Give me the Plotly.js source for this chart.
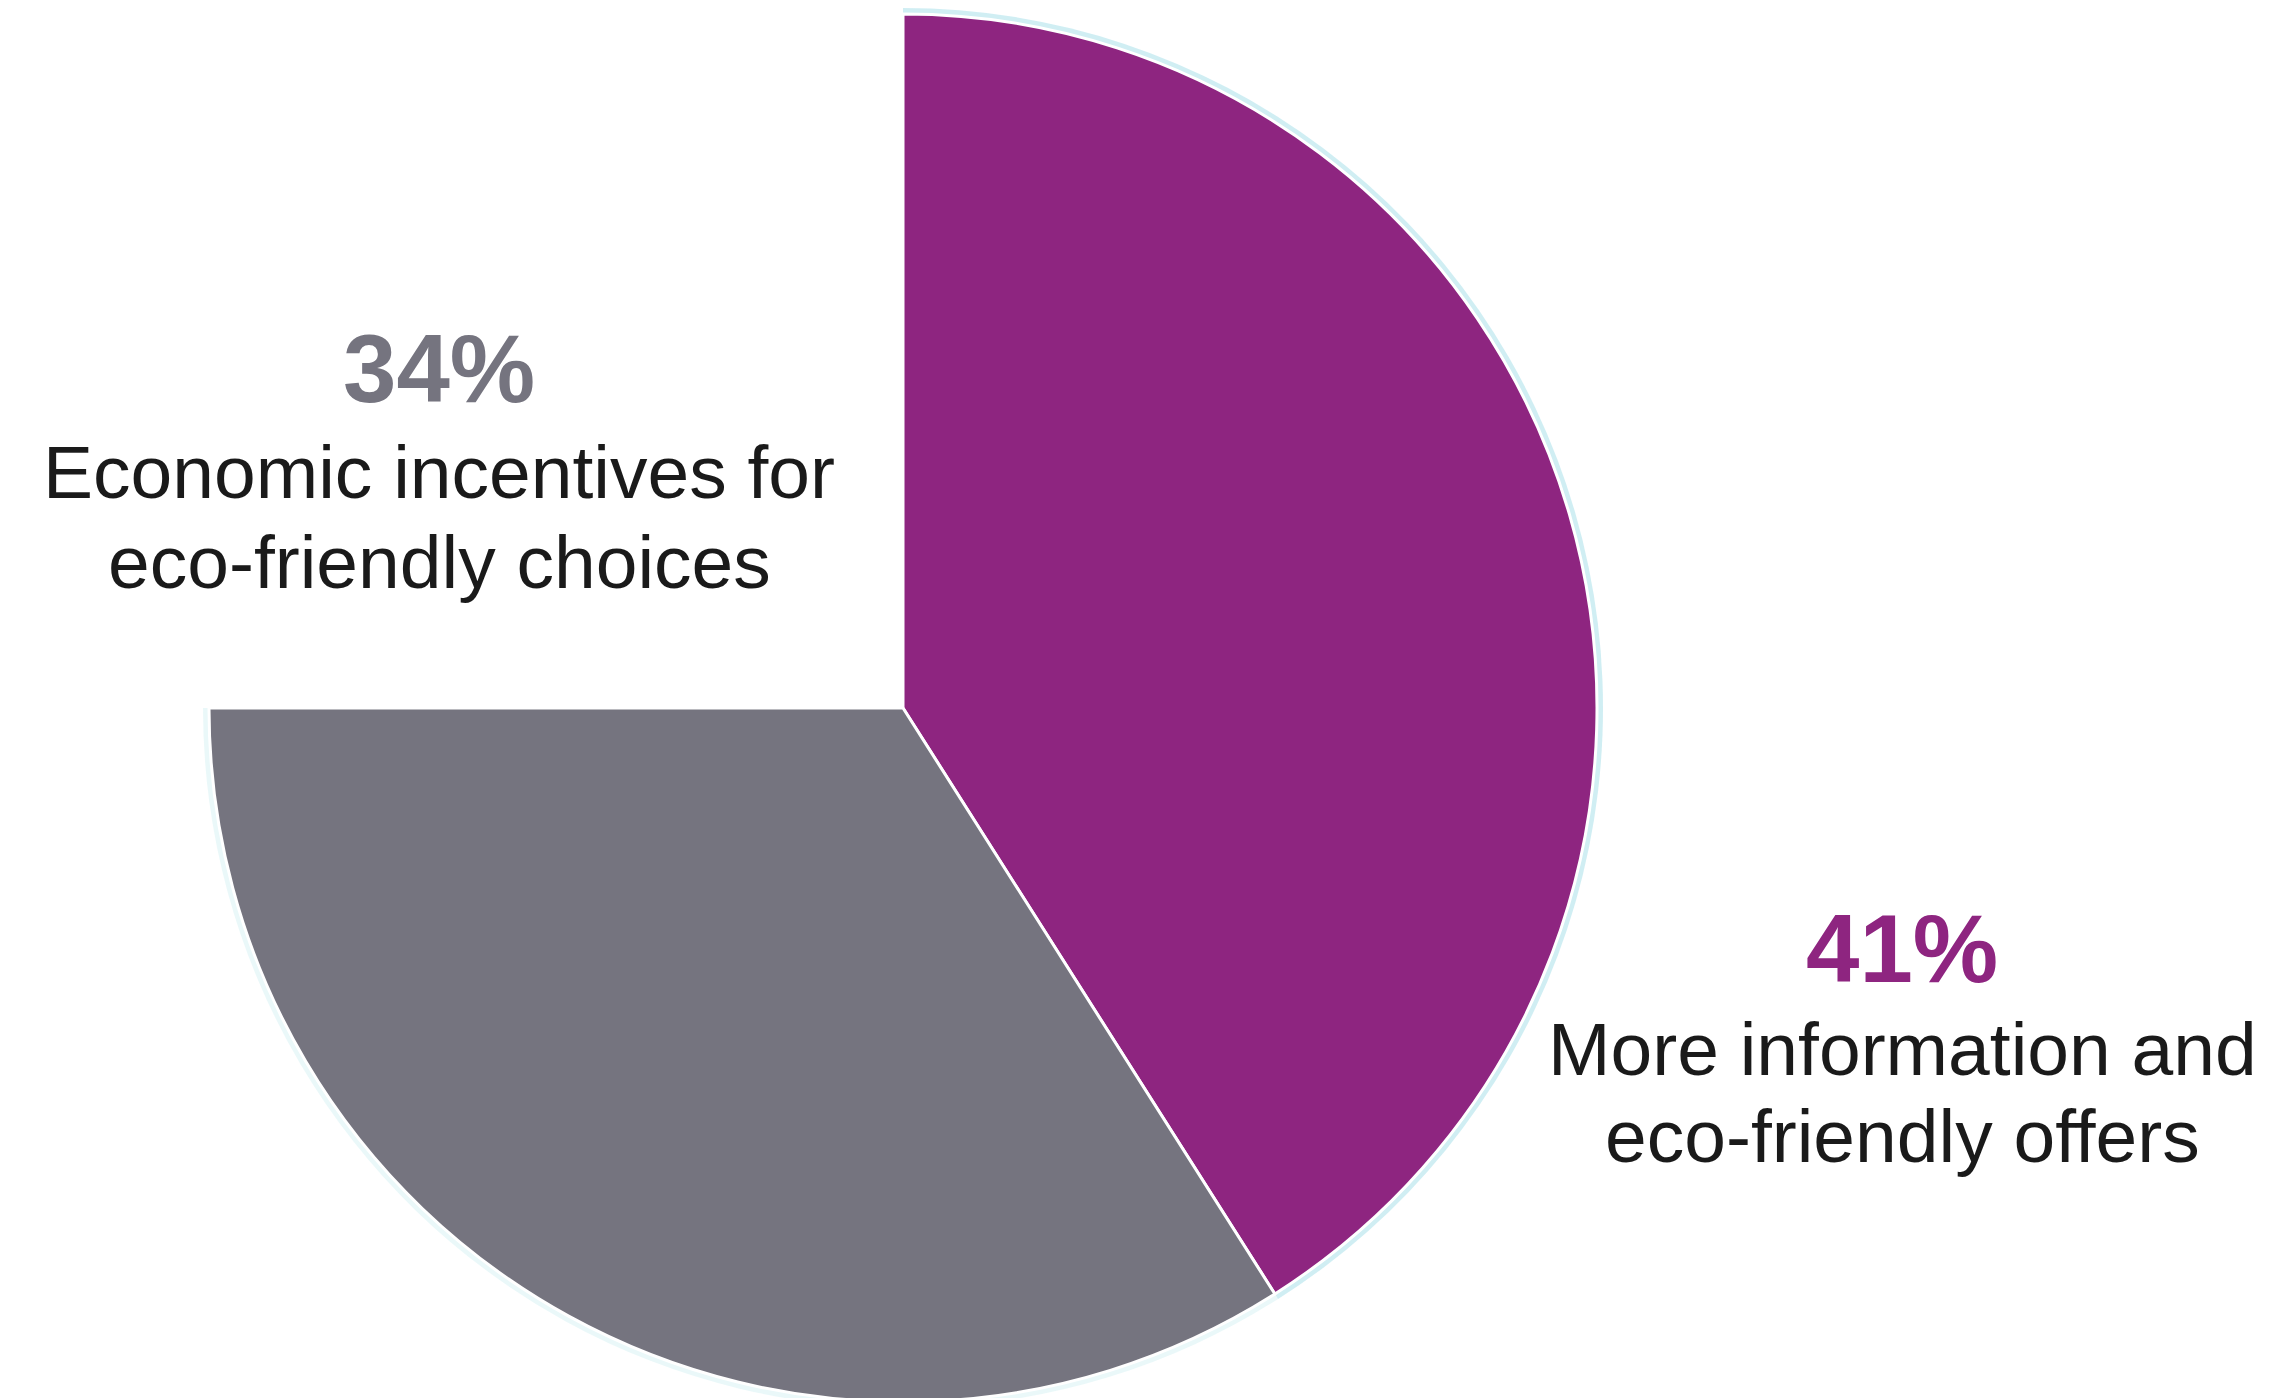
<!DOCTYPE html>
<html>
<head>
<meta charset="utf-8">
<script src="https://cdn.plot.ly/plotly-3.0.1.min.js"></script>
<style>
  html, body { margin: 0; padding: 0; background: #ffffff; overflow: hidden; }
  #chart { width: 2285px; height: 1412px; }
</style>
</head>
<body>
<div id="chart"></div>
<script>
// ---- data ----
const categories = [
  'More information and eco-friendly offers',
  'Economic incentives for eco-friendly choices',
  'Other / no answer'
];
const shares = [41, 34, 25];
const percentLabels = ['41%', '34%'];
const labelLines = [
  ['More information and', 'eco-friendly offers'],
  ['Economic incentives for', 'eco-friendly choices']
];

// ---- styles ----
const W = 2285, H = 1412;
const sliceColors = ['#8e2580', '#75747f', 'rgba(0,0,0,0)'];
const lineColors = ['#ffffff', '#ffffff', 'rgba(0,0,0,0)'];
const pctColors = ['#8e2580', '#75747f'];
const textColor = '#1a1a1a';
const FONT = 'Liberation Sans, Arial, Helvetica, sans-serif';

const cx = 903, cy = 708, r = 694;
function px2x(x) { return x / W; }
function px2y(y) { return 1 - y / H; }

const dom = {
  x: [px2x(cx - r - 60), px2x(cx + r + 60)],
  y: [px2y(cy + r), px2y(cy - r)]
};
const glowR = r + 6;
const glowDom = {
  x: [px2x(cx - glowR - 60), px2x(cx + glowR + 60)],
  y: [px2y(cy + glowR), px2y(cy - glowR)]
};

const traces = [
  {
    type: 'pie',
    labels: categories.map(c => c + ' '),
    values: shares,
    sort: false,
    direction: 'clockwise',
    rotation: 0,
    textinfo: 'none',
    hoverinfo: 'skip',
    showlegend: false,
    domain: glowDom,
    marker: { colors: ['rgba(170,224,234,0.55)', 'rgba(195,235,238,0.35)', 'rgba(0,0,0,0)'], line: { width: 0 } }
  },
  {
    type: 'pie',
    labels: categories,
    values: shares,
    sort: false,
    direction: 'clockwise',
    rotation: 0,
    textinfo: 'none',
    hoverinfo: 'label+percent',
    showlegend: false,
    domain: dom,
    marker: { colors: sliceColors, line: { color: lineColors, width: 3 } }
  }
];

// label anchors (centre x, line centres y) in pixels
const labelPos = [
  { x: 1902, pct: 948, lines: [1049, 1136] },
  { x: 439, pct: 369, lines: [472, 562] }
];

const annotations = [];
labelPos.forEach((p, i) => {
  annotations.push({
    xref: 'paper', yref: 'paper', x: px2x(p.x), y: px2y(p.pct),
    xanchor: 'center', yanchor: 'middle', showarrow: false,
    text: '<b>' + percentLabels[i] + '</b>',
    font: { family: FONT, size: 96, color: pctColors[i] }
  });
  labelLines[i].forEach((t, j) => {
    annotations.push({
      xref: 'paper', yref: 'paper', x: px2x(p.x), y: px2y(p.lines[j]),
      xanchor: 'center', yanchor: 'middle', showarrow: false,
      text: t,
      font: { family: FONT, size: 75, color: textColor }
    });
  });
});

const layout = {
  width: W, height: H,
  margin: { l: 0, r: 0, t: 0, b: 0 },
  paper_bgcolor: '#ffffff',
  plot_bgcolor: '#ffffff',
  showlegend: false,
  annotations: annotations
};

Plotly.newPlot('chart', traces, layout, { displayModeBar: false, staticPlot: true });
</script>
</body>
</html>
